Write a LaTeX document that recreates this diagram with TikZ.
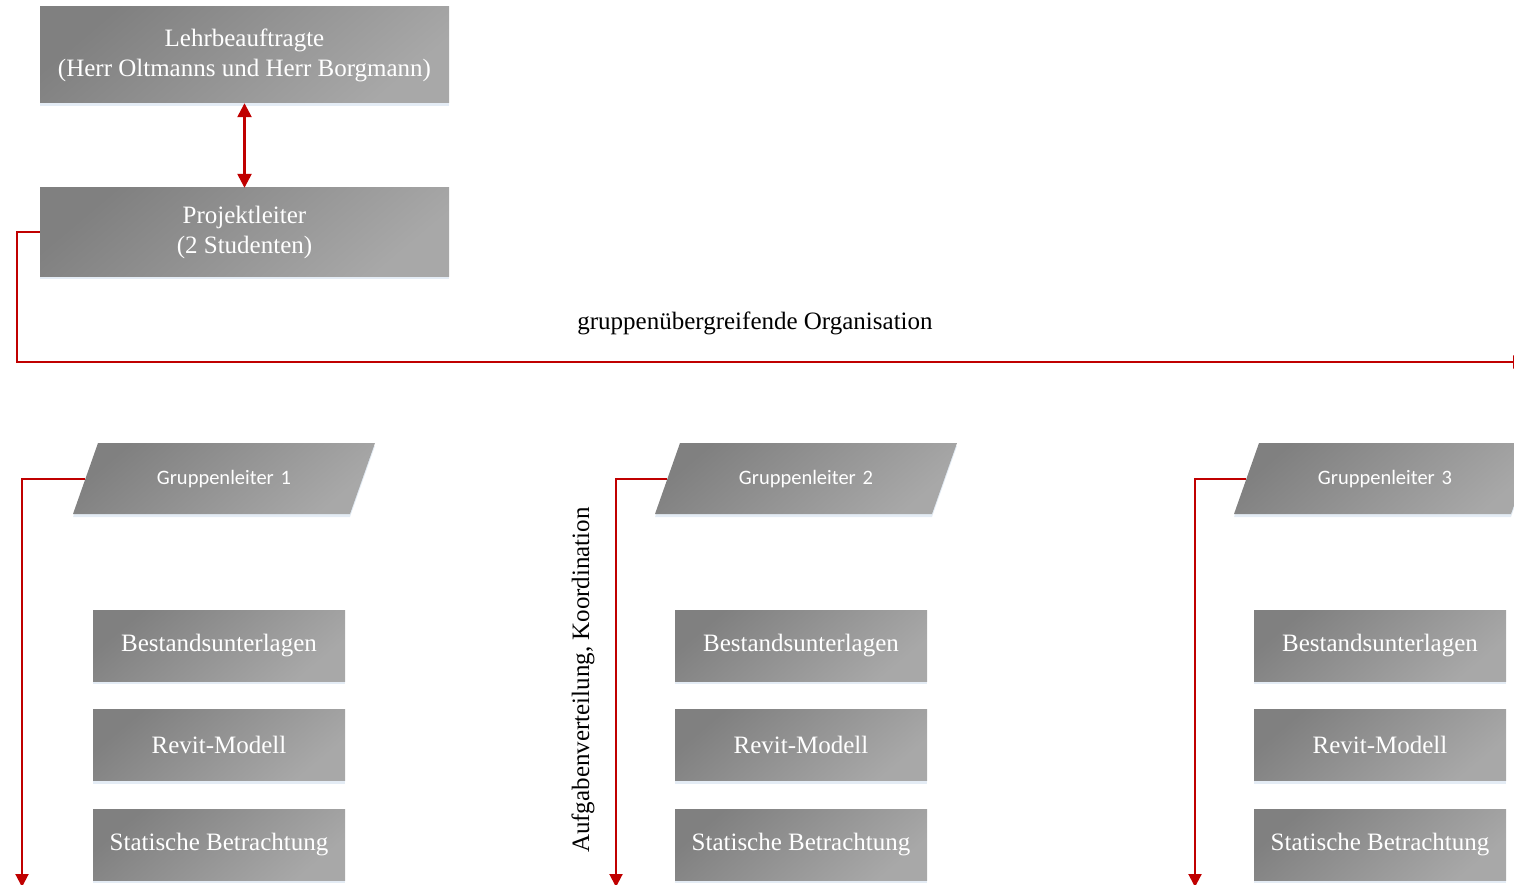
\documentclass[tikz,border=0pt]{standalone}
\usepackage{fontspec}
\setmainfont{Liberation Serif}
\newfontfamily\calibrifont{Carlito}
\usetikzlibrary{shapes.geometric,arrows.meta,shadows}
\definecolor{arrowred}{HTML}{C00000}
\definecolor{boxdark}{HTML}{808080}
\definecolor{boxlight}{HTML}{A8A8A8}
\definecolor{glow}{HTML}{D2E0EE}
\tikzset{
  boxshade/.style={top color=boxdark, bottom color=boxlight, shading angle=40,
    drop shadow={shadow xshift=0pt, shadow yshift=-3pt, fill=glow, opacity=0.6}},
  graybox/.style={rectangle, boxshade, inner sep=0pt, text=white, align=center,
    font=\fontsize{25}{30}\selectfont},
  glbox/.style={trapezium, trapezium left angle=70.6, trapezium right angle=109.4,
    boxshade, inner xsep=0pt, inner ysep=0pt, text width=252pt, align=center,
    text height=41pt, text depth=30pt, text=white,
    font=\calibrifont\fontsize{20.5}{24}\selectfont},
  redline/.style={draw=arrowred, line width=2pt},
  redtip/.style={-{Triangle[width=13pt,length=13pt]}},
  label/.style={text=black, font=\fontsize{25}{30}\selectfont, inner sep=0pt}
}
\begin{document}
\begin{tikzpicture}[x=1pt,y=-1pt]
\useasboundingbox (0,0) rectangle (1514,885);

% top boxes
\node[graybox, minimum width=409pt, minimum height=96pt] (lb) at (244.5,55)
  {Lehrbeauftragte\\(Herr Oltmanns und Herr Borgmann)};
\node[graybox, minimum width=409pt, minimum height=88pt] (pl) at (244.5,232)
  {Projektleiter\\(2 Studenten)};
\draw[redline, line width=2.5pt, {Triangle[width=14pt,length=14pt]}-{Triangle[width=14pt,length=14pt]}]
  (lb.south) -- (pl.north);

% organisation line
\coordinate (c1) at (17,362);
\coordinate (hend) at (1526,362);
\draw[redline, redtip] (pl.west) -| (c1) -- (hend);
\node[label] (org) at (755,323) {gruppenübergreifende Organisation};

% group leaders
\node[glbox] (gl1) at (224,478.5) {Gruppenleiter 1};
\node[glbox] (gl2) at (806,478.5) {Gruppenleiter 2};
\node[glbox] (gl3) at (1385,478.5) {Gruppenleiter 3};

\coordinate (d1) at (22,887);
\coordinate (d2) at (616,887);
\coordinate (d3) at (1195,887);
\draw[redline, redtip] (gl1.west) -| (d1);
\draw[redline, redtip] (gl2.west) -| (d2);
\draw[redline, redtip] (gl3.west) -| (d3);

\node[label, rotate=90] (av) at (583,680) {Aufgabenverteilung, Koordination};

% task boxes
\foreach \c/\x in {1/219, 2/801, 3/1380}{
  \node[graybox, minimum width=252pt, minimum height=71pt] (b\c) at (\x,645.5) {Bestandsunterlagen};
  \node[graybox, minimum width=252pt, minimum height=71pt] (r\c) at (\x,745) {Revit-Modell};
  \node[graybox, minimum width=252pt, minimum height=71pt] (s\c) at (\x,844.5) {Statische Betrachtung};
}
\end{tikzpicture}
\end{document}
